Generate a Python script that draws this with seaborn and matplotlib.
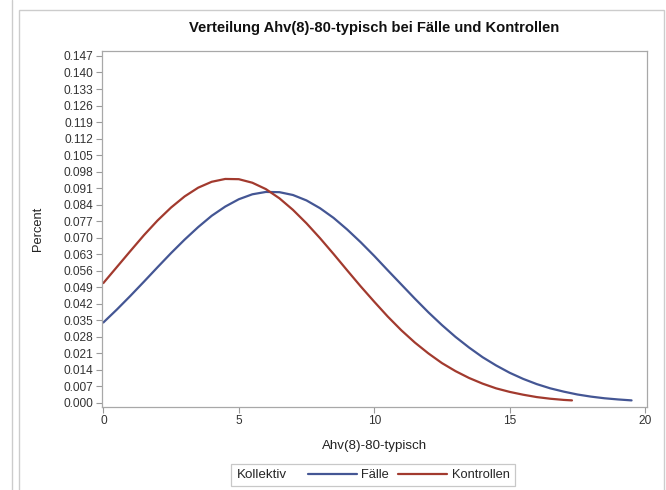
import numpy as np
import pandas as pd
import matplotlib
matplotlib.use('Agg')
import matplotlib.pyplot as plt
import seaborn as sns
from matplotlib.lines import Line2D
from matplotlib.patches import Rectangle
from matplotlib.offsetbox import HPacker

# Values
x_faelle = [0, 0.5, 1, 1.5, 2, 2.5, 3, 3.5, 4, 4.5, 5, 5.5, 6, 6.5, 7, 7.5, 8, 8.5, 9, 9.5,
            10, 10.5, 11, 11.5, 12, 12.5, 13, 13.5, 14, 14.5, 15, 15.5, 16, 16.5, 17, 17.5,
            18, 18.5, 19, 19.5]
y_faelle = [0.0341, 0.0396, 0.0454, 0.0514, 0.0575, 0.0635, 0.0692, 0.0745, 0.0793, 0.0832,
            0.0863, 0.0884, 0.0894, 0.0893, 0.0881, 0.0858, 0.0825, 0.0784, 0.0735, 0.0681,
            0.0623, 0.0562, 0.0502, 0.0442, 0.0384, 0.0330, 0.0280, 0.0235, 0.0194, 0.0159,
            0.0128, 0.0102, 0.0080, 0.0062, 0.0048, 0.0036, 0.0027, 0.0020, 0.0015, 0.0011]

x_kontrollen = [0, 0.5, 1, 1.5, 2, 2.5, 3, 3.5, 4, 4.5, 5, 5.5, 6, 6.5, 7, 7.5, 8, 8.5, 9, 9.5,
                10, 10.5, 11, 11.5, 12, 12.5, 13, 13.5, 14, 14.5, 15, 15.5, 16, 16.5, 17, 17.3]
y_kontrollen = [0.0508, 0.0576, 0.0644, 0.0711, 0.0773, 0.0828, 0.0875, 0.0912, 0.0937, 0.0949,
                0.0948, 0.0933, 0.0906, 0.0867, 0.0818, 0.0761, 0.0698, 0.0631, 0.0562, 0.0494,
                0.0429, 0.0366, 0.0308, 0.0256, 0.0210, 0.0169, 0.0135, 0.0106, 0.0082, 0.0062,
                0.0047, 0.0035, 0.0025, 0.0018, 0.0013, 0.0011]

groups = ['Fälle', 'Kontrollen']
colors = ['#445694', '#A23A2E']
y_ticks = np.round(np.arange(0, 0.148, 0.007), 3)
x_ticks = [0, 5, 10, 15, 20]

df = pd.concat([
    pd.DataFrame({'x': x_faelle, 'y': y_faelle, 'Kollektiv': groups[0]}),
    pd.DataFrame({'x': x_kontrollen, 'y': y_kontrollen, 'Kollektiv': groups[1]}),
])

sns.set_theme(style='white')
plt.rcParams['font.family'] = ['Liberation Sans', 'DejaVu Sans']

fig = plt.figure(figsize=(6.66, 4.9), dpi=100)
ax = fig.add_axes([102 / 666, 1 - 407 / 490, (647 - 102) / 666, (407 - 51) / 490])

sns.lineplot(data=df, x='x', y='y', hue='Kollektiv', palette=colors, linewidth=1.6,
             ax=ax, legend=False, sort=False)

ax.set_xlim(-0.05, 20.07)
ax.set_ylim(-0.0017, 0.1491)
ax.set_xticks(x_ticks)
ax.set_yticks(y_ticks)
ax.set_yticklabels(['%.3f' % v for v in y_ticks])
ax.tick_params(axis='both', direction='out', length=4, width=0.8, color='#9a9a9a',
               labelsize=8.6, labelcolor='#333333', pad=2, bottom=True, left=True)
for s in ax.spines.values():
    s.set_color('#a8a8a8')
    s.set_linewidth(0.9)

ax.set_xlabel('Ahv(8)-80-typisch', fontsize=9.6, color='#222222', labelpad=9)
ax.set_ylabel('Percent', fontsize=9.3, color='#222222', labelpad=14)
ax.set_title('Verteilung Ahv(8)-80-typisch bei Fälle und Kontrollen', fontsize=10.6,
             fontweight='bold', color='#111111', pad=14)

# legend with title to the left of entries
handles = [Line2D([], [], color=c, lw=1.6) for c in colors]
leg = ax.legend(handles, groups, title='Kollektiv', ncol=2, loc='center',
                bbox_to_anchor=(373 / 666, 1 - 475 / 490), bbox_transform=fig.transFigure,
                fontsize=9.3, title_fontsize=9.6, handlelength=3.8, handletextpad=0.35,
                columnspacing=0.7, borderpad=0.4, fancybox=False, framealpha=1,
                edgecolor='#c8c8c8')
leg.get_frame().set_linewidth(0.9)
fs = leg._fontsize
leg._legend_box = HPacker(pad=0.4 * fs, sep=15, align='center',
                          children=[leg._legend_title_box, leg._legend_handle_box])
leg._legend_box.set_figure(fig)
leg._legend_box.axes = ax
leg._legend_box.set_offset(leg._findoffset)

# outer frames of the report page
fig.add_artist(Line2D([11.5 / 666, 11.5 / 666], [0, 1], transform=fig.transFigure,
                      color='#cccccc', lw=1))
fig.add_artist(Rectangle((19 / 666, -0.05), (664 - 19) / 666, (490 - 10) / 490 + 0.05,
                         transform=fig.transFigure, fill=False, edgecolor='#cccccc', lw=1))

fig.savefig('out.png', dpi=100)
